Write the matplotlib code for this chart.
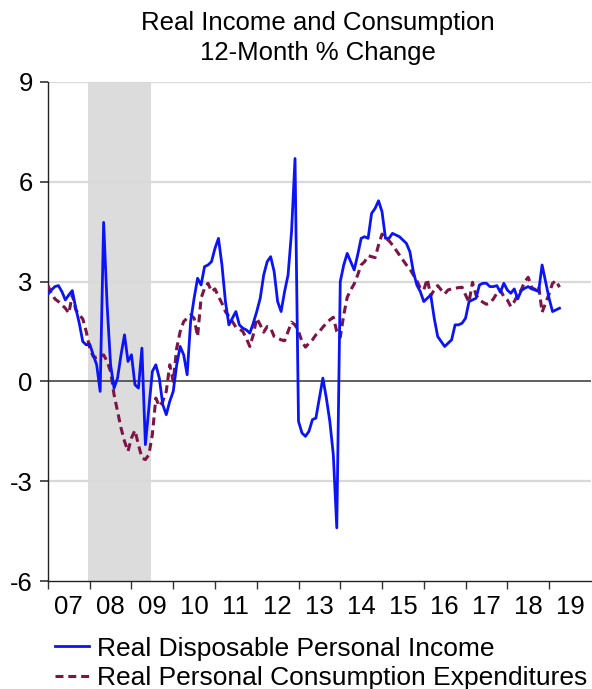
import numpy as np
import matplotlib
matplotlib.use("Agg")
import matplotlib.pyplot as plt
from matplotlib.ticker import FixedLocator, NullFormatter

plt.rcParams['font.family'] = ['Liberation Sans', 'DejaVu Sans']

start_year = 2007
# Real Disposable Personal Income, 12-month % change (monthly, Jan 2007 - Apr 2019)
income = [
    2.62, 2.75, 2.85, 2.88, 2.70, 2.45, 2.60, 2.73, 2.20, 1.75, 1.20, 1.10,   # 2007
    1.12, 0.80, 0.50, -0.30, 4.78, 2.30, 0.50, -0.20, 0.10, 0.80, 1.40, 0.60,  # 2008
    0.80, -0.10, -0.20, 1.00, -1.90, -0.80, 0.30, 0.50, 0.10, -0.70, -1.00, -0.60,  # 2009
    -0.30, 0.50, 1.05, 0.80, 0.20, 1.80, 2.50, 3.10, 2.90, 3.45, 3.50, 3.60,  # 2010
    4.00, 4.30, 3.50, 2.40, 1.70, 1.90, 2.10, 1.70, 1.60, 1.55, 1.45, 1.75,   # 2011
    2.10, 2.50, 3.20, 3.60, 3.75, 3.30, 2.40, 2.10, 2.70, 3.20, 4.50, 6.70,   # 2012
    -1.20, -1.55, -1.65, -1.50, -1.15, -1.10, -0.50, 0.10, -0.50, -1.20, -2.20, -4.40,  # 2013
    3.00, 3.50, 3.85, 3.60, 3.35, 3.80, 4.30, 4.35, 4.30, 5.05, 5.20, 5.43,   # 2014
    5.10, 4.30, 4.30, 4.45, 4.40, 4.35, 4.25, 4.15, 3.90, 3.30, 2.90, 2.70,   # 2015
    2.40, 2.50, 2.60, 1.90, 1.35, 1.20, 1.05, 1.15, 1.25, 1.70, 1.70, 1.75,   # 2016
    1.90, 2.40, 2.45, 2.50, 2.90, 2.95, 2.95, 2.85, 2.85, 2.88, 2.68, 2.95,   # 2017
    2.75, 2.65, 2.78, 2.48, 2.73, 2.80, 2.85, 2.78, 2.75, 2.70, 3.50, 3.00,   # 2018
    2.50, 2.10, 2.15, 2.20,                                                   # 2019
]
# Real Personal Consumption Expenditures, 12-month % change
consumption = [
    2.88, 2.65, 2.48, 2.40, 2.30, 2.20, 2.05, 2.60, 2.15, 2.00, 1.88, 1.50,   # 2007
    1.00, 0.75, 0.72, 0.75, 0.80, 0.60, 0.30, -0.40, -0.90, -1.40, -1.80, -2.10,  # 2008
    -1.70, -1.47, -1.90, -2.30, -2.35, -2.20, -1.60, -0.50, -0.75, -0.60, -0.30, 0.50,  # 2009
    0.00, 1.00, 1.50, 1.80, 1.90, 2.00, 1.90, 1.35, 2.50, 2.80, 2.95, 2.70,   # 2010
    2.78, 2.55, 2.35, 2.10, 1.95, 1.80, 1.63, 1.58, 1.50, 1.30, 1.05, 1.40,   # 2011
    1.90, 1.70, 1.48, 1.65, 1.60, 1.35, 1.30, 1.25, 1.22, 1.50, 1.78, 1.70,   # 2012
    1.50, 1.20, 1.03, 1.15, 1.25, 1.40, 1.50, 1.63, 1.75, 1.85, 1.93, 1.50,   # 2013
    1.33, 2.00, 2.53, 2.75, 2.93, 3.20, 3.50, 3.60, 3.78, 3.75, 3.72, 4.10,   # 2014
    4.43, 4.30, 4.23, 4.10, 3.95, 3.80, 3.65, 3.50, 3.38, 3.20, 3.03, 2.80,   # 2015
    2.75, 3.08, 2.58, 2.75, 2.88, 2.75, 2.63, 2.75, 2.78, 2.80, 2.82, 2.83,   # 2016
    2.60, 2.38, 2.98, 2.60, 2.45, 2.38, 2.32, 2.35, 2.48, 2.65, 2.75, 2.55,   # 2017
    2.45, 2.25, 2.40, 2.60, 2.75, 3.00, 3.13, 2.83, 2.75, 2.88, 2.08, 2.35,   # 2018
    2.63, 2.95, 3.03, 2.83,                                                   # 2019
]
year_labels = ['07', '08', '09', '10', '11', '12', '13', '14', '15', '16', '17', '18', '19']
y_ticks = [-6, -3, 0, 3, 6, 9]
recession = (2007 + 11.5 / 12, 2009 + 5.5 / 12)

t = start_year + np.arange(len(income)) / 12.0

fig = plt.figure(figsize=(5.92, 6.89), dpi=100)
ax = fig.add_axes([0.081, 0.1567, 0.917, 0.7243])

ax.axvspan(recession[0], recession[1], color='#DCDCDC', lw=0, zorder=0)
for yv in [3, 6, 9, -3]:
    ax.axhline(yv, color='#D9D9D9', lw=1.6, zorder=1)
ax.axhline(0, color='#444444', lw=1.2, zorder=2)

l1, = ax.plot(t, income, color='#0A14F5', lw=2.0, zorder=4,
              solid_joinstyle='round', label='Real Disposable Personal Income')
l2, = ax.plot(t, consumption, color='#7D1446', lw=2.2, zorder=3,
              dashes=(2.6, 1.6), label='Real Personal Consumption Expenditures')

ax.set_xlim(2007, 2020)
ax.set_ylim(-6, 9)
ax.set_yticks(y_ticks)
ax.set_yticklabels([str(v) for v in y_ticks])

years = np.arange(2007, 2020)
ax.xaxis.set_major_locator(FixedLocator(np.arange(2007, 2020)))
ax.xaxis.set_major_formatter(NullFormatter())
ax.xaxis.set_minor_locator(FixedLocator(years + 0.5))
ax.set_xticklabels(year_labels, minor=True)

ax.tick_params(axis='x', which='major', length=6, width=1, color='#333333', direction='out')
ax.tick_params(axis='x', which='minor', length=0, pad=10, labelsize=18.5)
ax.tick_params(axis='y', length=6, width=1.2, color='#333333', direction='out', pad=5, labelsize=18.5)

for s in ['top', 'right']:
    ax.spines[s].set_visible(False)
ax.spines['left'].set_color('#222222')
ax.spines['bottom'].set_color('#222222')
ax.spines['left'].set_linewidth(1.0)
ax.spines['bottom'].set_linewidth(1.0)

fig.text(0.537, 0.984, 'Real Income and Consumption\n12-Month % Change',
         ha='center', va='top', fontsize=18.5, linespacing=1.3)

fig.legend(handles=[l1, l2], loc='upper left', bbox_to_anchor=(0.093, 0.076),
           frameon=False, fontsize=19, handlelength=1.3, handletextpad=0.3,
           labelspacing=0.22, borderpad=0, borderaxespad=0)

fig.savefig('out.png', dpi=100)
